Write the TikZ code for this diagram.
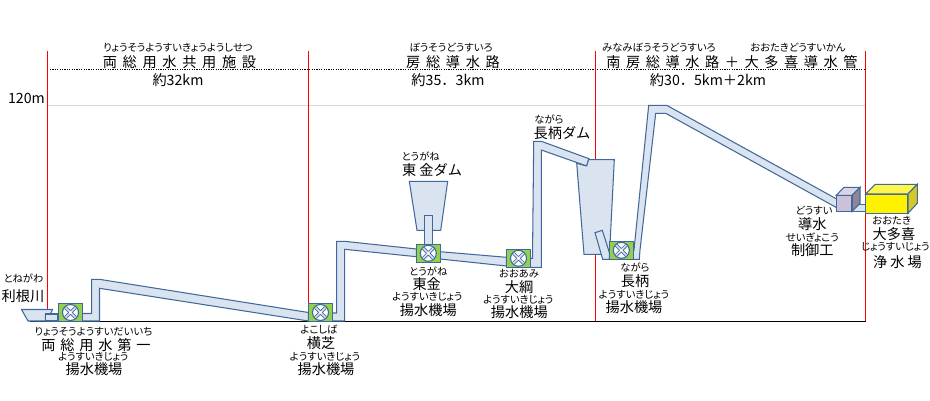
\documentclass[tikz,border=0pt]{standalone}
\usepackage{fontspec}
\setmainfont{Noto Sans CJK JP}
\newfontfamily\rubyfont[RawFeature=+palt]{Noto Sans CJK JP}
\definecolor{pipeblue}{HTML}{41689B}
\definecolor{pipefill}{HTML}{DAE4F1}
\definecolor{pumpgreen}{HTML}{92D050}
\definecolor{ctrlfront}{HTML}{CCC1DA}
\begin{document}
\begin{tikzpicture}[x=1pt,y=-1pt,
  pipe/.style={draw=pipeblue,fill=pipefill,line width=1.05pt,line join=miter},
  pumpbox/.style={draw=pipeblue,fill=pumpgreen,line width=1.1pt,minimum width=24pt,minimum height=18pt,inner sep=0pt,outer sep=0pt},
  divider/.style={red,line width=1pt},
  ruby/.style={font=\rubyfont\fontsize{10.3}{11}\selectfont,inner sep=0pt,text=black},
  main/.style={font=\fontsize{14.2}{15}\selectfont,inner sep=0pt,text=black},
  wide/.style={font=\fontsize{14.2}{15}\selectfont\addfontfeature{LetterSpace=#1},inner sep=0pt,text=black}]
\useasboundingbox (0,0) rectangle (930,400);
\fill[white] (0,0) rectangle (930,400);
% grid
\draw[gray!30,line width=1pt] (47,105.5) -- (866,105.5);
\draw[dash pattern=on 1.2pt off 1.2pt,line width=1pt] (50,69.5) -- (866,69.5);
\foreach \x in {47.5,308.5,595.5,865.5} \draw[divider] (\x,51) -- (\x,321);
\draw[line width=1pt] (30,321.5) -- (866,321.5);
% pipes and dams
\draw[pipe] (21.5,309.5) -- (52.5,309.5) -- (50.5,314) -- (45.5,314) -- (45.5,321) -- (28,321) -- cycle;
\draw[pipe] (45.5,314) -- (58,314) -- (58,321) -- (45.5,321) -- cycle;
\draw[pipe] (82,313.5) -- (91.7,313.5) -- (91.7,279.3) -- (99.3,279.3) -- (308.5,312.5) -- (308.5,321) -- (99.5,288.3) -- (99.5,321) -- (82,321) -- cycle;
\draw[pipe] (332,313) -- (336.7,313) -- (336.7,241.3) -- (344.5,241.3) -- (416.5,249) -- (416.5,256.7) -- (344.7,249.3) -- (344.7,321) -- (332,321) -- cycle;
\draw[pipe] (409.3,181.3) -- (447.7,181.3) -- (440.7,230.3) -- (417,230.3) -- cycle;
\draw[pipe] (424.7,215.7) -- (432.7,215.7) -- (432.7,245) -- (424.7,245) -- cycle;
\draw[pipe] (440,251.7) -- (506.5,257.3) -- (506.5,266) -- (440,259) -- cycle;
\draw[pipe] (530,258.3) -- (532.5,258.3) -- (533.7,141.3) -- (541.3,141.3) -- (589,158.7) -- (586.7,166) -- (541.3,150) -- (541.3,267.3) -- (530,267.3) -- cycle;
\draw[pipe] (576.7,163.3) -- (586.7,166) -- (588.5,159.7) -- (614.3,159.7) -- (609.5,254.3) -- (584,254.3) -- cycle;
\draw[pipe] (595,232.7) -- (602.3,230.3) -- (609.5,253) -- (609.5,259.3) -- (602.7,259.3) -- cycle;
\draw[pipe] (633,250) -- (634,250) -- (648.7,105.3) -- (666.7,105.3) -- (836.7,199) -- (836.7,207.7) -- (665.7,113.3) -- (655.7,113.3) -- (640,250) -- (639.3,259.3) -- (633,259.3) -- cycle;
\draw[pipe] (852,204.3) -- (866,204.3) -- (866,211.3) -- (852,211.3) -- cycle;
% control box
\draw[pipe,fill=ctrlfront!70!white] (836.3,195.3) -- (844,187.3) -- (860,187.3) -- (852,195.3) -- cycle;
\draw[pipe,fill=ctrlfront!70!black] (852,195.3) -- (860,187.3) -- (860,203.3) -- (852,211.3) -- cycle;
\draw[pipe,fill=ctrlfront] (836.3,195.3) rectangle (852,211.3);
% yellow box
\draw[pipe,fill=yellow] (865.7,194) rectangle (908,213.3);
\draw[pipe,fill=yellow!70!white] (865.7,194) -- (875.3,184.3) -- (917.3,184.3) -- (908,194) -- cycle;
\draw[pipe,fill=yellow!80!black] (908,194) -- (917.3,184.3) -- (917.3,203.3) -- (908,213.3) -- cycle;
% pumps
\newcommand{\pumpfan}[1]{%
  \draw[pipeblue,fill=white,line width=1.1pt] (#1) circle (8);
  \begin{scope}[shift={(#1)}]
    \draw[pipeblue,line width=3.2pt] (-5,-5) -- (5,5) (-5,5) -- (5,-5);
    \draw[pipefill,line width=1.6pt] (-5,-5) -- (5,5) (-5,5) -- (5,-5);
    \fill[white] (0,0) circle (1.4);
  \end{scope}}
\node[pumpbox] (p1) at (70.5,312.5) {}; \pumpfan{p1.center}
\node[pumpbox] (p2) at (320.5,312.5) {}; \pumpfan{p2.center}
\node[pumpbox] (p3) at (428.3,253.3) {}; \pumpfan{p3.center}
\node[pumpbox] (p4) at (518.5,258.3) {}; \pumpfan{p4.center}
\node[pumpbox] (p5) at (621.3,250.3) {}; \pumpfan{p5.center}
% headers
\node[ruby] (r1) at (178,48) {りょうそうようすいきょうようしせつ};
\node[wide=40] (h1) at (179.5,62) {両総用水共用施設};
\node[main] (d1) at (178,80) {約32km};
\node[ruby] (r2) at (451,48) {ぼうそうどうすいろ};
\node[wide=40] (h2) at (453,62) {房総導水路};
\node[main] (d2) at (448,80) {約35．3km};
\node[ruby] (r3) at (659,48) {みなみぼうそうどうすいろ};
\node[ruby] (r4) at (798,48) {おおたきどうすいかん};
\node[wide=39] (h3) at (732,62) {南房総導水路＋大多喜導水管};
\node[main] (d3) at (708,80) {約30．5km＋2km};
\node[main,anchor=east] (lv) at (45,98) {120m};
% labels
\node[ruby] (a1) at (23.5,278) {とねがわ};
\node[main] (a2) at (23,296) {利根川};
\node[ruby] (b1) at (93.5,331.5) {りょうそうようすいだいいち};
\node[wide=34] (b2) at (96,345.5) {両総用水第一};
\node[ruby] (b3) at (93.3,357) {ようすいきじょう};
\node[main] (b4) at (94,369.5) {揚水機場};
\node[ruby] (c1) at (319,329.3) {よこしば};
\node[main] (c2) at (321,343.5) {横芝};
\node[ruby] (c3) at (325,357) {ようすいきじょう};
\node[main] (c4) at (326,369.5) {揚水機場};
\node[ruby] (e1) at (420.7,156) {とうがね};
\node[main] (e2) at (432,170) {東 金ダム};
\node[ruby] (f1) at (428.3,271.5) {とうがね};
\node[main] (f2) at (426.7,284.5) {東金};
\node[ruby] (f3) at (427.3,297) {ようすいきじょう};
\node[main] (f4) at (428.3,310) {揚水機場};
\node[ruby] (g1) at (519,274) {おおあみ};
\node[main] (g2) at (519,287) {大綱};
\node[ruby] (g3) at (518.3,300) {ようすいきじょう};
\node[main] (g4) at (519.3,312.5) {揚水機場};
\node[ruby] (i1) at (549,119) {ながら};
\node[main] (i2) at (562,133) {長柄ダム};
\node[ruby] (j1) at (635,267) {ながら};
\node[main] (j2) at (635,281) {長柄};
\node[ruby] (j3) at (634,294.5) {ようすいきじょう};
\node[main] (j4) at (634,307) {揚水機場};
\node[ruby] (k1) at (814,211) {どうすい};
\node[main] (k2) at (812.3,224) {導水};
\node[ruby] (k3) at (812.3,237) {せいぎょこう};
\node[main] (k4) at (812.3,250) {制御工};
\node[ruby] (m1) at (891.7,220.5) {おおたき};
\node[main] (m2) at (894,234.5) {大多喜};
\node[ruby] (m3) at (895.5,247) {じょうすいじょう};
\node[wide=22] (m4) at (897.5,261.7) {浄水場};
\end{tikzpicture}
\end{document}
